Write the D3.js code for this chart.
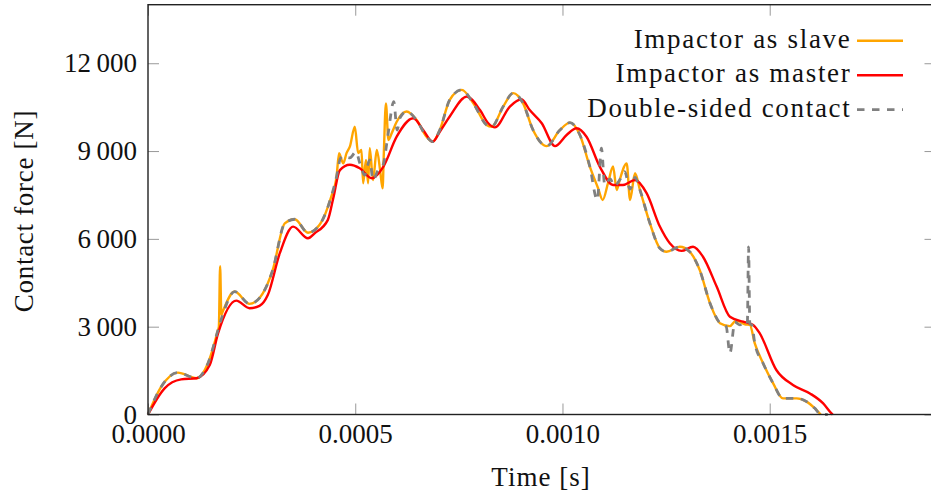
<!DOCTYPE html>
<html>
<head>
<meta charset="utf-8">
<script src="https://cdn.jsdelivr.net/npm/d3@7"></script>
<style>
  body { margin: 0; background: #fff; }
  svg { display: block; }
  text { font-family: "Liberation Serif", "Times New Roman", serif; fill: #111; }
</style>
</head>
<body>
<svg id="chart" width="931" height="495"></svg>
<script>
// time in microseconds, force in N
const slaveT = [0,32,72,117,145,169,171,174,177,179,209,245,277,301,330,354,386,414,442,455,461,471,479,487,499,507,515,519,526,531,535,543,552,560,566,569,574,580,588,600,624,648,672,687,704,728,757,785,817,829,857,881,905,929,962,994,1018,1042,1066,1086,1097,1110,1122,1131,1138,1155,1163,1175,1187,1211,1235,1251,1283,1307,1331,1356,1380,1404,1418,1428,1440,1452,1464,1484,1508,1532,1565,1589,1609,1623];
const slaveF = [0,950,1430,1240,1760,2890,3000,5070,3400,3470,4200,3780,4140,4940,6530,6670,6210,6480,7440,8130,8930,8580,8930,9150,9830,8930,9040,7900,8700,7900,9100,8010,9040,8350,7730,8930,10630,9380,9610,10000,10350,10060,9490,9320,9720,10750,11090,10630,9890,9830,10520,10980,10630,9720,9170,9720,9970,9550,8470,7730,7330,7910,8470,7670,8010,8580,7330,8240,7670,6530,5680,5560,5730,5560,4940,3800,3120,3020,3200,3170,3080,3060,2430,1750,1070,550,550,440,210,0];

const masterT = [0,40,80,117,149,169,213,245,269,289,318,350,386,402,434,447,463,487,511,540,568,600,640,664,687,704,728,769,801,821,837,873,901,921,950,982,1010,1034,1058,1090,1122,1146,1175,1203,1235,1259,1287,1315,1339,1372,1404,1436,1460,1476,1516,1556,1597,1629,1649,1652];
const masterF = [0,895,1200,1240,1690,2770,3890,3630,3710,4080,5510,6420,6020,6190,6650,7390,8350,8530,8410,8070,8470,9490,10120,9720,9320,9660,10180,10860,10400,9950,9810,10520,10770,10400,9950,9170,9550,9780,9490,8470,7840,7840,8010,7560,6420,5850,5590,5730,5390,4370,3340,3170,3060,2770,1520,1010,720,380,40,0];

const doubleT = [0,32,72,117,145,169,179,209,245,277,301,330,354,386,414,442,455,463,470,487,502,511,523,535,543,555,567,579,593,601,608,624,648,672,687,704,728,757,785,817,829,857,881,905,929,962,994,1018,1042,1066,1084,1094,1102,1115,1125,1138,1150,1163,1175,1187,1211,1235,1251,1283,1307,1331,1356,1380,1395,1404,1416,1428,1440,1446,1449,1452,1457,1464,1484,1508,1532,1565,1589,1609,1623,1640];
const doubleF = [0,950,1430,1240,1760,2890,3350,4200,3780,4140,4940,6530,6670,6210,6480,7440,8130,8700,8830,8770,8970,8590,8180,8700,8010,8350,8520,9550,10690,9720,10130,10350,10060,9490,9320,9720,10750,11090,10630,9890,9830,10520,10980,10630,9720,9170,9720,9970,9550,8470,7330,9100,7840,8050,7800,8010,8300,7700,8100,7670,6530,5680,5560,5730,5560,4940,3800,3120,3000,2090,3160,3060,3160,3100,5730,3100,3060,2430,1750,1070,550,550,440,210,0,0];

const xTicks = [0, 0.0005, 0.0010, 0.0015];
const yTicks = [0, 3000, 6000, 9000, 12000];
const legendLabels = ['Impactor as slave', 'Impactor as master', 'Double-sided contact'];
const seriesColors = ['#FFA500', '#FF0000', '#808080'];

const svg = d3.select('#chart');
const FS = 27;

const x = d3.scaleLinear().domain([0, 0.0019]).range([148, 935.5]);
const y = d3.scaleLinear().domain([0, 14000]).range([414.5, 4.7]);

const fmtY = d3.formatLocale({ decimal: '.', thousands: '\u2009', grouping: [3], currency: ['', ''] }).format(',d');

// ticks (inward, all four sides)
function styleAxis(g) {
  g.attr('font-family', null).attr('font-size', null);
  g.select('.domain').remove();
  g.selectAll('.tick line').attr('stroke', '#999').attr('stroke-width', 1);
  g.selectAll('.tick text').style('font-size', FS + 'px').attr('fill', '#111');
}
svg.append('g').attr('transform', 'translate(0,414.5)')
  .call(d3.axisBottom(x).tickValues(xTicks).tickSize(-11).tickPadding(9.5).tickFormat(d3.format('.4f')))
  .call(styleAxis);
svg.append('g').attr('transform', 'translate(0,4.7)')
  .call(d3.axisTop(x).tickValues(xTicks).tickSize(-11).tickFormat(''))
  .call(styleAxis);
svg.append('g').attr('transform', 'translate(148,0)')
  .call(d3.axisLeft(y).tickValues(yTicks).tickSize(-11).tickPadding(11).tickFormat(fmtY))
  .call(styleAxis);
svg.append('g').attr('transform', 'translate(935.5,0)')
  .call(d3.axisRight(y).tickValues(yTicks).tickSize(-11).tickFormat(''))
  .call(styleAxis);

// curves
const line = d3.line().x(d => x(d[0] * 1e-6)).y(d => y(d[1])).curve(d3.curveMonotoneX);
const series = [
  d3.zip(slaveT, slaveF),
  d3.zip(masterT, masterF),
  d3.zip(doubleT, doubleF)
];
series.forEach((pts, i) => {
  svg.append('path')
    .attr('d', line(pts))
    .attr('fill', 'none')
    .attr('stroke', seriesColors[i])
    .attr('stroke-width', i === 2 ? 2.8 : 2.4)
    .attr('stroke-dasharray', i === 2 ? '7.5,7.5' : null)
    .attr('stroke-linejoin', 'round');
});

// frame
svg.append('rect')
  .attr('x', 148).attr('y', 4.7)
  .attr('width', 935.5 - 148).attr('height', 414.5 - 4.7)
  .attr('fill', 'none').attr('stroke', '#222').attr('stroke-width', 1.4);

// legend (letter-spacing to get closer to the wider Computer Modern widths)
const leg = svg.append('g');
legendLabels.forEach((lab, i) => {
  const yy = 40.7 + i * 34.5;
  leg.append('text')
    .attr('x', 851.5).attr('y', yy + 7)
    .attr('text-anchor', 'end')
    .style('font-size', FS + 'px')
    .style('letter-spacing', '1.7px')
    .text(lab);
  leg.append('line')
    .attr('x1', 857).attr('x2', 903)
    .attr('y1', yy).attr('y2', yy)
    .attr('stroke', seriesColors[i])
    .attr('stroke-width', i === 2 ? 2.8 : 2.4)
    .attr('stroke-dasharray', i === 2 ? '7.5,7.5' : null);
});

// axis labels
svg.append('text')
  .attr('x', 541).attr('y', 486)
  .attr('text-anchor', 'middle')
  .style('font-size', FS + 'px')
  .style('letter-spacing', '1px')
  .text('Time [s]');
svg.append('text')
  .attr('transform', 'translate(33,211) rotate(-90)')
  .attr('text-anchor', 'middle')
  .style('font-size', FS + 'px')
  .style('letter-spacing', '0.7px')
  .text('Contact force [N]');
</script>
</body>
</html>
